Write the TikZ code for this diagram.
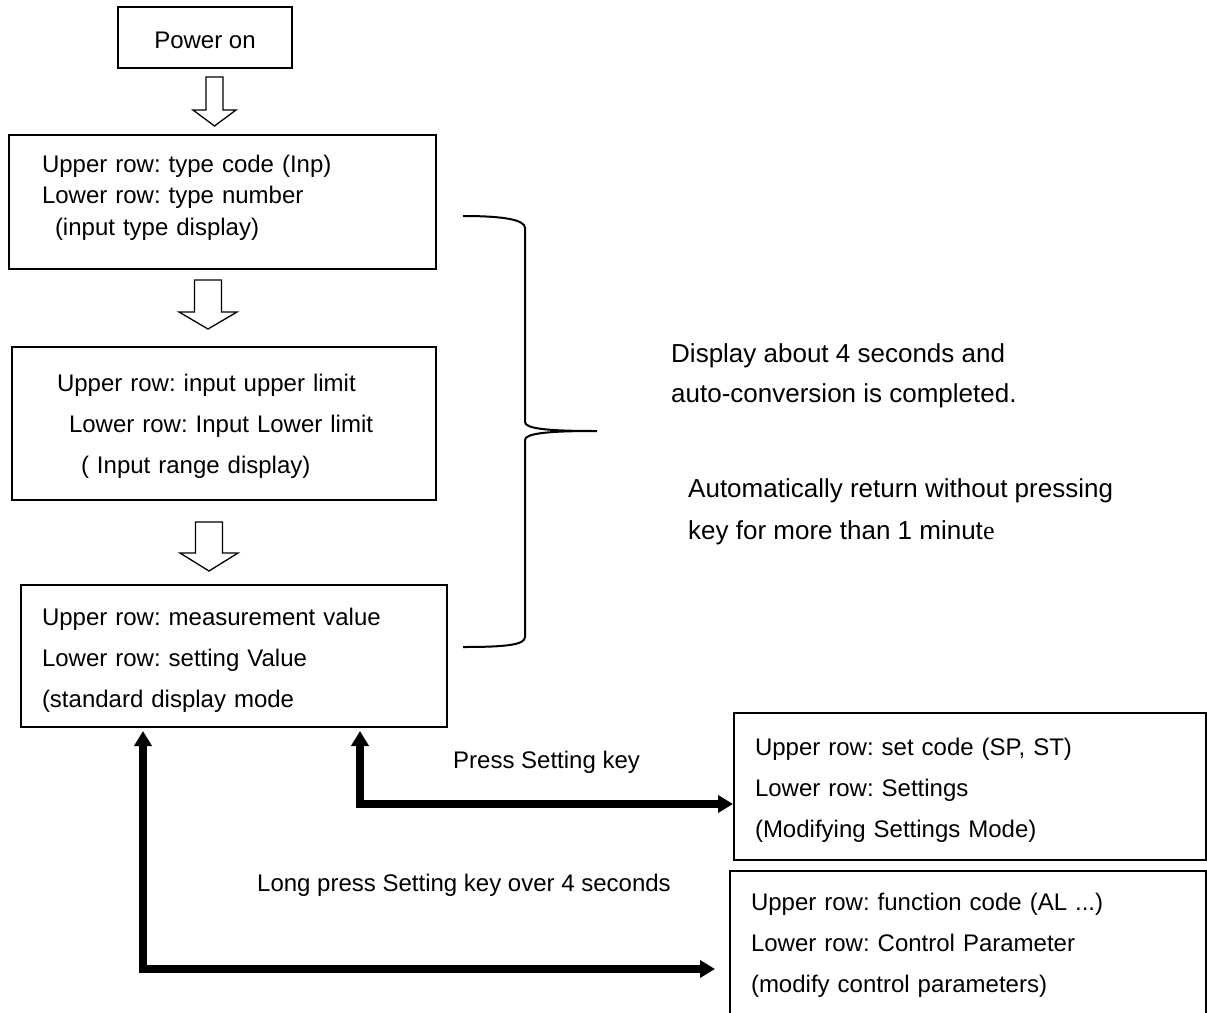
\documentclass[tikz,border=0pt]{standalone}
\usepackage{fontspec}
\setmainfont{Liberation Sans}
\newfontfamily\timesfont{Liberation Serif}
\usetikzlibrary{arrows.meta,positioning}
\frenchspacing

\begin{document}
\begin{tikzpicture}[x=1pt,y=-1pt,>=Triangle]
\tikzset{box/.style={draw,line width=2pt,inner ysep=0pt,align=left,text height=18pt,font=\fontsize{24}{41}\selectfont},
  note/.style={inner sep=0pt,align=left,anchor=base west,font=\fontsize{26}{40}\selectfont},
  keytext/.style={inner sep=0pt,anchor=base west,font=\fontsize{24}{29}\selectfont},
  hollow/.style={draw,line width=1.3pt,line join=miter},
  bigarrow/.style={line width=8pt,line cap=rect,-{Triangle[width=17pt,length=15pt]}}}
\clip (0,0) rectangle (1207,1012);
% display chain
\node[box,align=center,minimum width=174pt,minimum height=61pt,text height=21pt,text depth=0pt] (pwr) at (205,37.5) {Power on};
\node[box,minimum height=134pt,text width=361pt,inner xsep=33pt,text depth=78pt,font=\fontsize{24}{31.5}\selectfont] (inp) at (222.5,202)
  {Upper row: type code (Inp)\\Lower row: type number\\\hspace*{13pt}(input type display)};
\node[box,minimum height=153pt,text width=334pt,inner xsep=45pt,text depth=83pt] (rng) at (224,423.5)
  {Upper row: input upper limit\\\hspace*{12pt}Lower row: Input Lower limit\\\hspace*{24pt}( Input range display)};
\node[box,minimum height=142pt,text width=384pt,inner xsep=21pt,text depth=80pt] (std) at (234,656)
  {Upper row: measurement value\\Lower row: setting Value\\(standard display mode};
\node[box,minimum height=147pt,text width=430pt,inner xsep=21pt,text depth=81pt] (set) at (970,786.5)
  {Upper row: set code (SP, ST)\\Lower row: Settings\\(Modifying Settings Mode)};
\node[box,minimum height=148pt,text width=434pt,inner xsep=21pt,text depth=88pt] (fun) at (968,945)
  {Upper row: function code (AL ...)\\Lower row: Control Parameter\\(modify control parameters)};
% hollow arrows between the boxes
\foreach \cx/\top/\hd/\tip/\sw/\hw in {214.5/77/110/126/8.5/21.5,208/280/312/329/13.5/29,209/522/553/571/13.5/29}
  \draw[hollow] (\cx-\sw,\top) -- (\cx+\sw,\top) -- (\cx+\sw,\hd) -- (\cx+\hw,\hd) -- (\cx,\tip)
    -- (\cx-\hw,\hd) -- (\cx-\sw,\hd) -- cycle;
% brace and notes
\draw[line width=2pt] (463,216) .. controls (505,216) and (525,220) .. (525,228) -- (525,422)
  .. controls (525,429) and (550,431) .. (597,431) .. controls (550,431) and (525,433) .. (525,440)
  -- (525,637) .. controls (525,645) and (505,647) .. (463,647);
\node[note] (disp) at (671,402) {Display about 4 seconds and\\auto-conversion is completed.};
\node[note,font=\fontsize{26}{42}\selectfont] (ret) at (688,539) {Automatically return without pressing\\key for more than 1 minut{\timesfont e}};
% key presses
\node[keytext] (press) at (453,768) {Press Setting key};
\node[keytext] (long) at (257,891) {Long press Setting key over 4 seconds};
\coordinate (cA) at (360,804);
\coordinate (cB) at (143,969);
\draw[bigarrow,shorten >=3pt] (cA) -- (cA |- std.south);
\draw[bigarrow] (cA) -- (cA -| set.west);
\draw[bigarrow,shorten >=3pt] (cB) -- (cB |- std.south);
\draw[bigarrow,shorten >=14pt] (cB) -- (cB -| fun.west);
\end{tikzpicture}
\end{document}
